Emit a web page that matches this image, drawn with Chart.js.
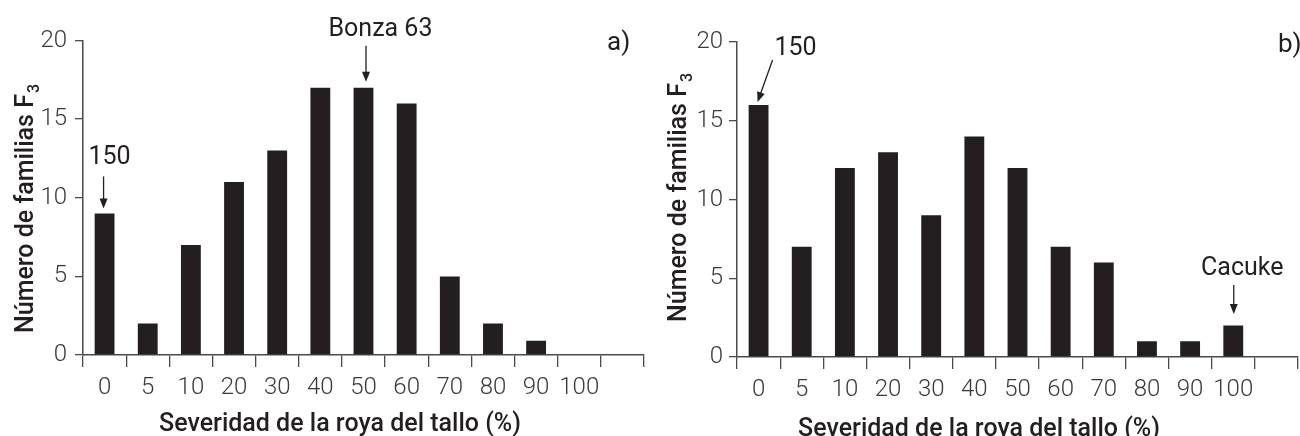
<!DOCTYPE html>
<html>
<head>
<meta charset="utf-8">
<script src="https://cdn.jsdelivr.net/npm/chart.js@4.4.1/dist/chart.umd.min.js"></script>
<style>
  body { margin: 0; background: #fff; }
  #wrap { position: relative; width: 1300px; height: 436px; }
  canvas { position: absolute; top: 0; }
  #chartA { left: 0; }
  #chartB { left: 650px; }
</style>
</head>
<body>
<div id="wrap">
  <canvas id="chartA" width="650" height="436"></canvas>
  <canvas id="chartB" width="650" height="436"></canvas>
</div>
<script>
// severity classes (last slot is an empty class at the end of the axis)
const severityLabels = ['0', '5', '10', '20', '30', '40', '50', '60', '70', '80', '90', '100', ''];
const familiesA = [9, 2, 7, 11, 13, 17, 17, 16, 5, 2, 0.9, 0, 0];
const familiesB = [16, 7, 12, 13, 9, 14, 12, 7, 6, 1, 1, 2, 0];
const yTickValues = [0, 5, 10, 15, 20];

const xTitle = 'Severidad de la roya del tallo (%)';
const yTitle = 'Número de familias F';
const ySub = '3';

const ink = '#231f20';
const axisGray = '#4a4a4a';
const tickGray = '#3a3a3a';

function arrow(ctx, x1, y1, x2, y2) {
    // line from (x1,y1) to head at (x2,y2)
    const ang = Math.atan2(y2 - y1, x2 - x1);
    const len = 10, half = 4;
    ctx.beginPath();
    ctx.moveTo(x1, y1);
    ctx.lineTo(x2 - Math.cos(ang) * len * 0.8, y2 - Math.sin(ang) * len * 0.8);
    ctx.stroke();
    ctx.beginPath();
    ctx.moveTo(x2, y2);
    ctx.lineTo(x2 - Math.cos(ang) * len - Math.sin(ang) * half, y2 - Math.sin(ang) * len + Math.cos(ang) * half);
    ctx.lineTo(x2 - Math.cos(ang) * len + Math.sin(ang) * half, y2 - Math.sin(ang) * len - Math.cos(ang) * half);
    ctx.closePath();
    ctx.fill();
}

const figText = {
    id: 'figText',
    afterDraw(chart, args, o) {
        const ctx = chart.ctx;
        const xs = chart.scales.x, ys = chart.scales.y;
        const vals = chart.data.datasets[0].data;
        ctx.save();
        ctx.fillStyle = ink;
        ctx.strokeStyle = ink;
        ctx.lineWidth = 1.3;

        // y axis title with subscript
        ctx.save();
        ctx.translate(o.yTitleAt[0], o.yTitleAt[1]);
        ctx.rotate(-Math.PI / 2);
        ctx.font = '500 25px Roboto';
        ctx.textAlign = 'left';
        ctx.textBaseline = 'alphabetic';
        ctx.fillText(yTitle, 0, 0);
        const w = ctx.measureText(yTitle).width;
        ctx.font = '500 16px Roboto';
        ctx.fillText(ySub, w + 1, 6);
        ctx.restore();

        // x axis title
        ctx.font = '500 25px Roboto';
        ctx.textAlign = 'center';
        ctx.fillText(xTitle, o.xTitleAt[0], o.xTitleAt[1]);

        // panel letter
        ctx.font = '400 26px Roboto';
        ctx.textAlign = 'left';
        ctx.fillText(o.panel, o.panelAt[0], o.panelAt[1]);

        // arrows pointing at bars
        ctx.font = '400 25px Roboto';
        ctx.textAlign = 'center';
        o.notes.forEach(n => {
            const bx = xs.getPixelForValue(n.at);
            const top = ys.getPixelForValue(vals[n.at]);
            ctx.fillText(n.label, bx + n.textOff[0], top + n.textOff[1]);
            arrow(ctx, bx + n.tail[0], top + n.tail[1], bx + n.head[0], top + n.head[1]);
        });
        ctx.restore();
    }
};

function makeChart(id, values, o) {
    return new Chart(document.getElementById(id), {
        type: 'bar',
        data: {
            labels: severityLabels,
            datasets: [{
                data: values,
                backgroundColor: ink,
                borderWidth: 0,
                barPercentage: 0.46,
                categoryPercentage: 1
            }]
        },
        options: {
            responsive: false,
            animation: false,
            layout: { padding: { top: o.top, right: o.right, left: 0, bottom: 0 } },
            plugins: {
                legend: { display: false },
                tooltip: { enabled: false },
                figText: o.text
            },
            scales: {
                x: {
                    grid: { drawOnChartArea: false, drawTicks: true, tickLength: 12, color: axisGray, lineWidth: 1.3, offset: true },
                    border: { color: axisGray, width: 1.5 },
                    ticks: { color: tickGray, font: { family: 'Roboto', size: 24, weight: 300 }, padding: 7, maxRotation: 0, autoSkip: false },
                    afterFit: s => { s.height = o.xHeight; }
                },
                y: {
                    min: 0, max: 20,
                    afterBuildTicks: s => { s.ticks = yTickValues.map(v => ({ value: v })); },
                    grid: { drawOnChartArea: false, drawTicks: true, tickLength: 8, color: axisGray, lineWidth: 1.3 },
                    border: { color: axisGray, width: 1.5 },
                    ticks: { color: tickGray, font: { family: 'Roboto', size: 24, weight: 300 }, padding: o.yPad },
                    afterFit: s => { s.width = o.yWidth; }
                }
            }
        },
        plugins: [figText]
    });
}

makeChart('chartA', familiesA, {
    top: 40.5, right: 6, xHeight: 81, yWidth: 83, yPad: 8,
    text: {
        yTitleAt: [33, 333], xTitleAt: [340, 430.5],
        panel: 'a)', panelAt: [607, 50],
        notes: [
            { at: 0, label: '150', textOff: [5, -49], tail: [-1, -37], head: [-1, -5] },
            { at: 6, label: 'Bonza 63', textOff: [17, -52], tail: [2.5, -42], head: [2.5, -6] }
        ]
    }
});

makeChart('chartB', familiesB, {
    top: 42, right: 2, xHeight: 79, yWidth: 87, yPad: 6,
    text: {
        yTitleAt: [36, 322], xTitleAt: [329, 436],
        panel: 'b)', panelAt: [628, 52],
        notes: [
            { at: 0, label: '150', textOff: [37, -50], tail: [14, -45], head: [-1, -3] },
            { at: 11, label: 'Cacuke', textOff: [9, -51], tail: [0.5, -40.5], head: [0.5, -11.5] }
        ]
    }
});
</script>
</body>
</html>
